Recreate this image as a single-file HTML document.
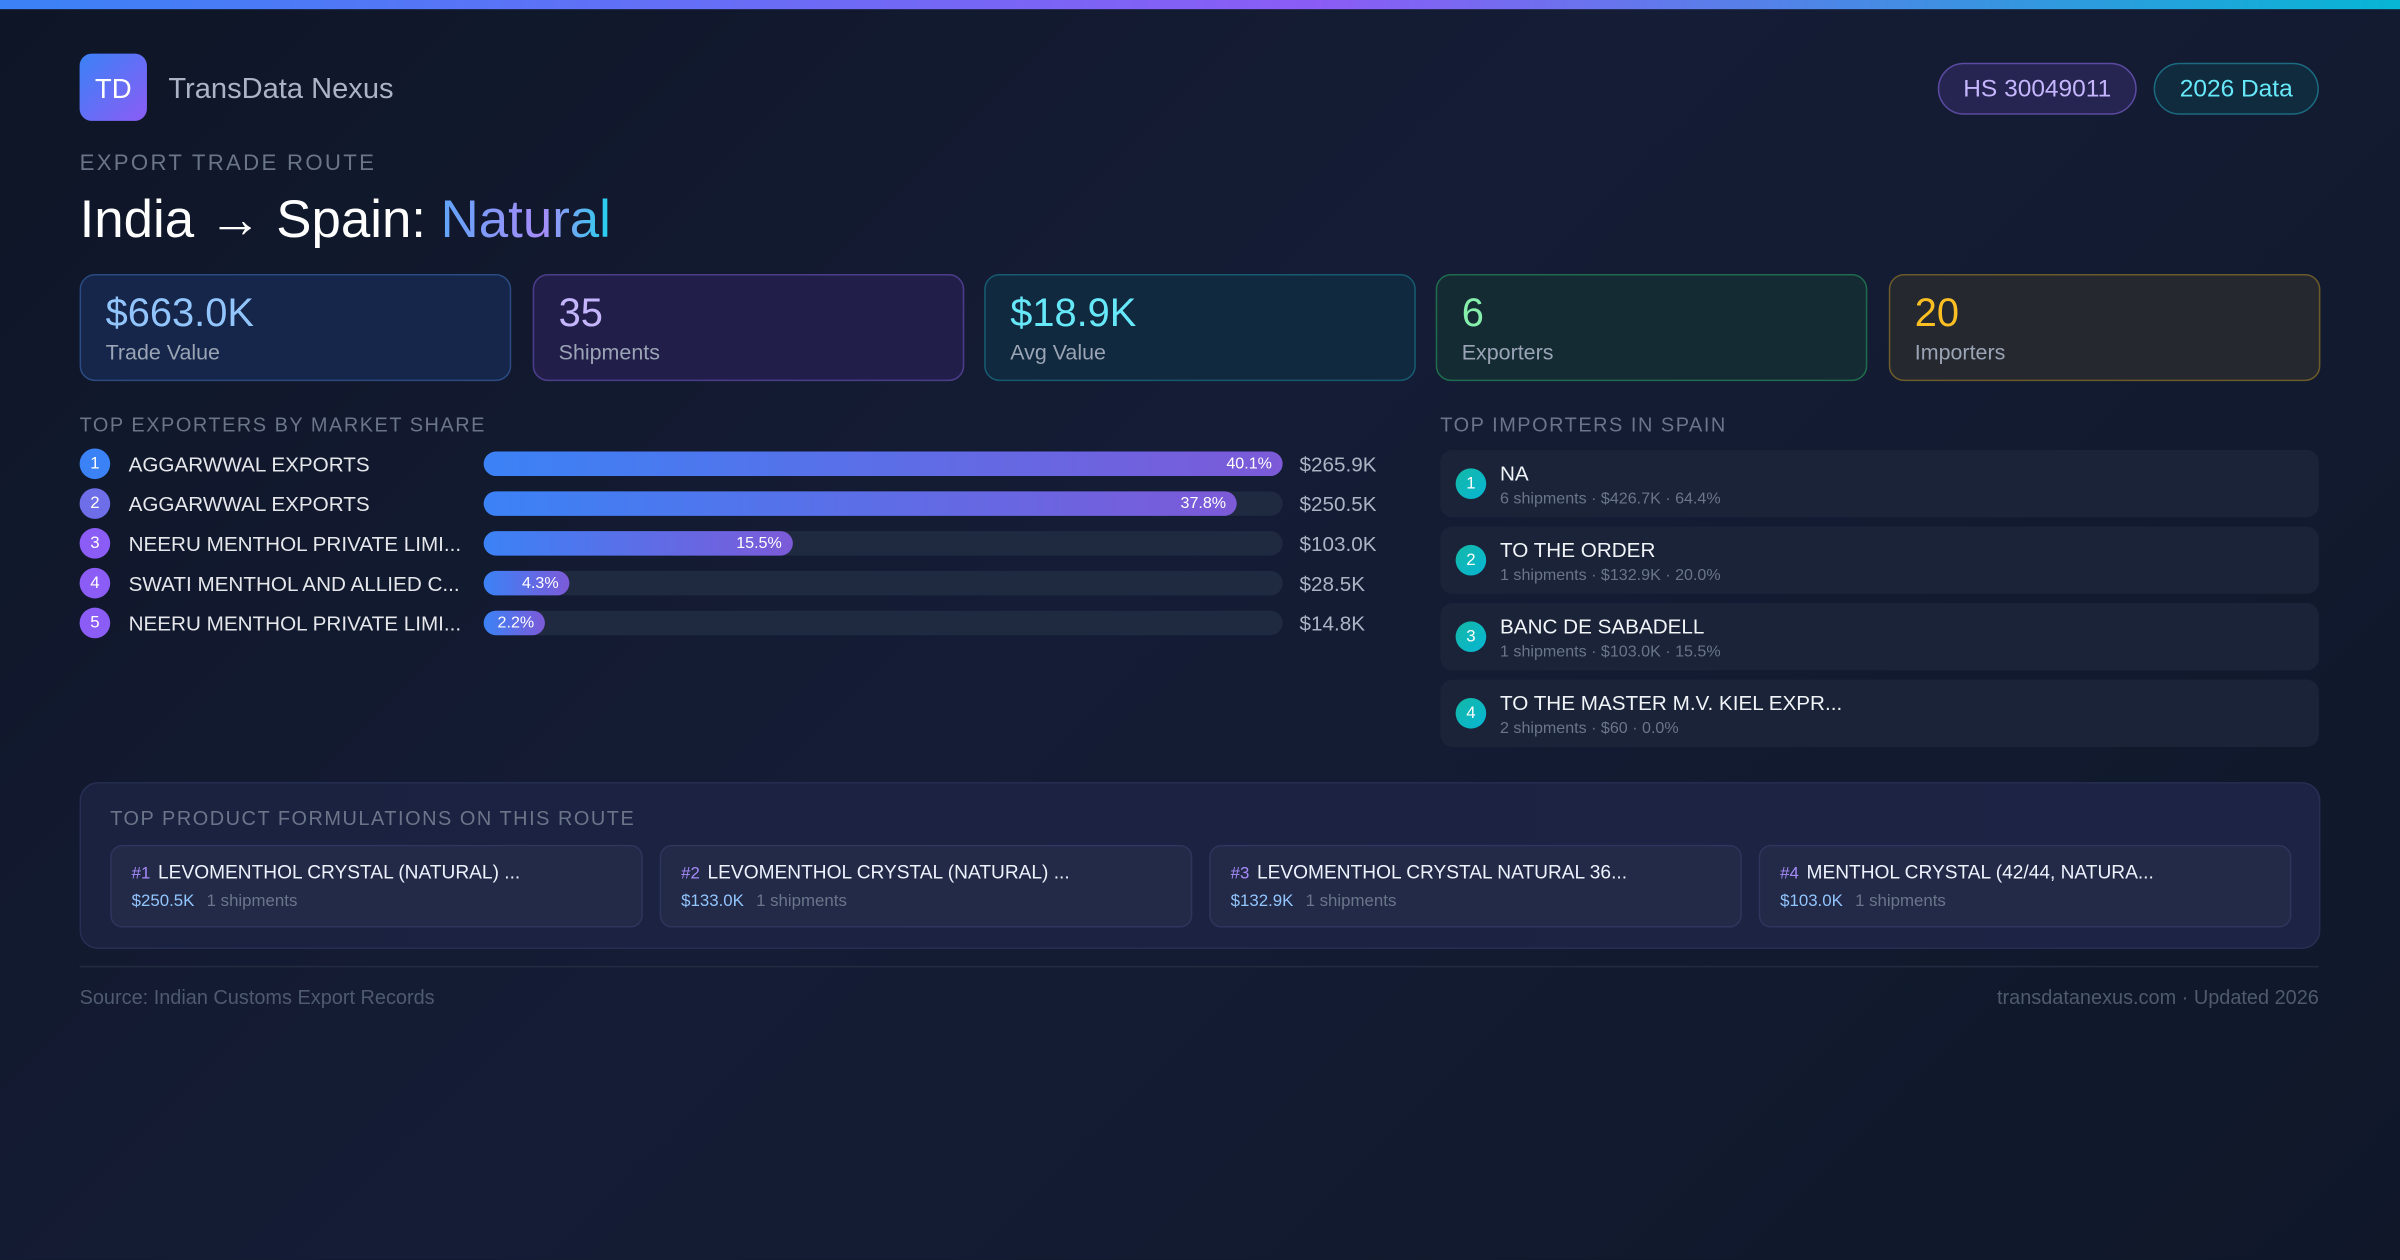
<!DOCTYPE html>
<html><head><meta charset="utf-8">
<style>
html,body{margin:0;padding:0;width:2400px;height:1260px;overflow:hidden;background:#0f172a;}
#stage{position:absolute;left:0;top:0;width:1568px;height:823px;transform:scale(1.530612);transform-origin:0 0;
 background:linear-gradient(135deg,#0e1526 0%,#151d36 45%,#111a2e 75%,#0f1729 100%);
 font-family:"Liberation Sans","DejaVu Sans",sans-serif;color:#e5e7eb;overflow:hidden;}
.abs{position:absolute;}
.topbar{left:0;top:0;width:1568px;height:6px;background:linear-gradient(90deg,#3b82f6,#8b5cf6 55%,#06b6d4);}
.logo{left:52px;top:35px;width:44px;height:44px;border-radius:8px;background:linear-gradient(135deg,#3b82f6,#8b5cf6);color:#fff;font-size:18px;line-height:46px;text-align:center;}
.brand{left:110px;top:48px;font-size:19px;color:#aab4c4;}
.pill{top:41px;height:32px;border-radius:17px;font-size:16px;line-height:34px;text-align:center;}
.kicker{left:52px;top:99px;font-size:14.5px;letter-spacing:1.5px;color:#6b7589;}
.title{left:52px;top:125px;font-size:34.5px;color:#fff;white-space:nowrap;}
.grad{background:linear-gradient(90deg,#60a5fa,#a78bfa 60%,#22d3ee);-webkit-background-clip:text;background-clip:text;color:transparent;}
.card{top:179px;width:280px;height:68px;border-radius:10px;border:1px solid;}
.card .v{position:absolute;left:16px;top:9px;font-size:26px;}
.card .l{position:absolute;left:16px;top:42px;font-size:14px;color:#9aa4b5;}
.h{font-size:13px;letter-spacing:1px;color:#6b7589;}
.row{left:52px;width:860px;height:22px;}
.num{position:absolute;left:0;top:1px;width:20px;height:20px;border-radius:10px;color:#fff;font-size:11px;line-height:21px;text-align:center;}
.name{position:absolute;left:32px;top:4px;font-size:13.5px;color:#e5e7eb;white-space:nowrap;}
.track{position:absolute;left:264px;top:3px;width:522px;height:16px;border-radius:8px;background:#1f2940;}
.fill{position:absolute;left:0;top:0;height:16px;border-radius:8px;background:linear-gradient(90deg,#3b82f6,#7c5ad8);}
.pct{position:absolute;right:7px;top:2px;font-size:10.5px;color:#fff;}
.val{position:absolute;left:797px;top:4px;font-size:13.5px;color:#aab4c4;}
.imp{left:941px;width:574px;height:44px;border-radius:8px;background:#1a2338;}
.imp .c{position:absolute;left:10px;top:12px;width:20px;height:20px;border-radius:10px;background:linear-gradient(135deg,#14b8a6,#06b6d4);color:#fff;font-size:11px;line-height:21px;text-align:center;}
.imp .n{position:absolute;left:39px;top:8px;font-size:13.5px;color:#f1f5f9;white-space:nowrap;}
.imp .s{position:absolute;left:39px;top:26px;font-size:10.5px;color:#6b7589;white-space:nowrap;}
.prodbox{left:52px;top:511px;width:1462px;height:107px;border-radius:12px;border:1px solid #262f52;background:linear-gradient(90deg,#1b2240,#1d2344);}
.prod{top:552px;width:346px;height:52px;border-radius:8px;border:1px solid #2d355c;background:#222a48;}
.prod .t{position:absolute;left:13px;top:10px;font-size:12.5px;color:#eef2ff;white-space:nowrap;}
.prod .t b{font-weight:normal;color:#a78bfa;margin-right:5px;font-size:11px;}
.prod .s{position:absolute;left:13px;top:30px;font-size:11px;color:#6b7589;white-space:nowrap;}
.prod .s span{color:#93c5fd;margin-right:8px;}
.foot{top:644px;font-size:13px;color:#4f5a6e;}
</style></head><body>
<div id="stage">
<div class="abs topbar"></div>
<div class="abs logo">TD</div>
<div class="abs brand">TransData Nexus</div>
<div class="abs pill" style="left:1266px;width:128px;background:#262451;border:1px solid #5b4aa0;color:#c4b5fd;">HS 30049011</div>
<div class="abs pill" style="left:1407px;width:106px;background:#0f2b3d;border:1px solid #1c6a80;color:#67e8f9;">2026 Data</div>
<div class="abs kicker">EXPORT TRADE ROUTE</div>
<div class="abs title">India → Spain: <span class="grad">Natural</span></div>

<div class="abs card" style="left:52px;background:#16264a;border-color:#2a4a80;"><div class="v" style="color:#93c5fd">$663.0K</div><div class="l">Trade Value</div></div>
<div class="abs card" style="left:348px;background:#211f4a;border-color:#4c3d8a;"><div class="v" style="color:#c4b5fd">35</div><div class="l">Shipments</div></div>
<div class="abs card" style="left:643px;background:#10293f;border-color:#175a70;"><div class="v" style="color:#67e8f9">$18.9K</div><div class="l">Avg Value</div></div>
<div class="abs card" style="left:938px;background:#142b34;border-color:#1f6b4c;"><div class="v" style="color:#86efac">6</div><div class="l">Exporters</div></div>
<div class="abs card" style="left:1234px;background:#25292f;border-color:#6b5a2a;"><div class="v" style="color:#fbbf24">20</div><div class="l">Importers</div></div>

<div class="abs h" style="left:52px;top:270px;">TOP EXPORTERS BY MARKET SHARE</div>
<div id="exporters"></div>

<div class="abs h" style="left:941px;top:270px;">TOP IMPORTERS IN SPAIN</div>
<div id="importers"></div>

<div class="abs prodbox"></div>
<div class="abs h" style="left:72px;top:527px;">TOP PRODUCT FORMULATIONS ON THIS ROUTE</div>
<div id="products"></div>

<div class="abs" style="left:52px;top:631px;width:1463px;height:1px;background:#222b40;"></div>
<div class="abs foot" style="left:52px;">Source: Indian Customs Export Records</div>
<div class="abs foot" style="right:53px;">transdatanexus.com · Updated 2026</div>
</div>
<script>
const exporterNames=["AGGARWWAL EXPORTS","AGGARWWAL EXPORTS","NEERU MENTHOL PRIVATE LIMI...","SWATI MENTHOL AND ALLIED C...","NEERU MENTHOL PRIVATE LIMI..."];
const exporterShares=[40.1,37.8,15.5,4.3,2.2];
const exporterValues=["$265.9K","$250.5K","$103.0K","$28.5K","$14.8K"];
const numColors=["#3b82f6","#6d6ee8","#8b5cf6","#8b5cf6","#8b5cf6"];
const importerNames=["NA","TO THE ORDER","BANC DE SABADELL","TO THE MASTER M.V.  KIEL EXPR..."];
const importerShipments=[6,1,1,2];
const importerValues=["$426.7K","$132.9K","$103.0K","$60"];
const importerShares=[64.4,20.0,15.5,0.0];
const productNames=["LEVOMENTHOL CRYSTAL (NATURAL) ...","LEVOMENTHOL CRYSTAL (NATURAL) ...","LEVOMENTHOL CRYSTAL NATURAL 36...","MENTHOL CRYSTAL (42/44, NATURA..."];
const productValues=["$250.5K","$133.0K","$132.9K","$103.0K"];
const productShipments=[1,1,1,1];

const st=document.getElementById('stage');
const maxShare=Math.max(...exporterShares);
const trackW=522;
function xScale(v){return Math.max(40,v/maxShare*trackW);}
exporterNames.forEach((n,i)=>{
  const r=document.createElement('div');r.className='abs row';r.style.top=(292+i*26)+'px';
  
  
  r.innerHTML='<div class="num" style="background:'+numColors[i]+'">'+(i+1)+'</div><div class="name">'+n+'</div><div class="track"><div class="fill" style="width:'+xScale(exporterShares[i])+'px"><span class="pct">'+exporterShares[i].toFixed(1)+'%</span></div></div><div class="val">'+exporterValues[i]+'</div>';
  const f=r.querySelector('.fill');
  
  
  st.appendChild(r);
});
importerNames.forEach((n,i)=>{
  const r=document.createElement('div');r.className='abs imp';r.style.top=(294+i*50)+'px';
  
  
  r.innerHTML='<div class="c">'+(i+1)+'</div><div class="n">'+n+'</div><div class="s">'+importerShipments[i]+' shipments · '+importerValues[i]+' · '+importerShares[i].toFixed(1)+'%</div>';
  st.appendChild(r);
});
productNames.forEach((n,i)=>{
  const r=document.createElement('div');r.className='abs prod';r.style.left=(72+i*359)+'px';
  
  
  r.innerHTML='<div class="t"><b>#'+(i+1)+'</b>'+n+'</div><div class="s"><span>'+productValues[i]+'</span>'+productShipments[i]+' shipments</div>';
  st.appendChild(r);
});
</script>
</body></html>
